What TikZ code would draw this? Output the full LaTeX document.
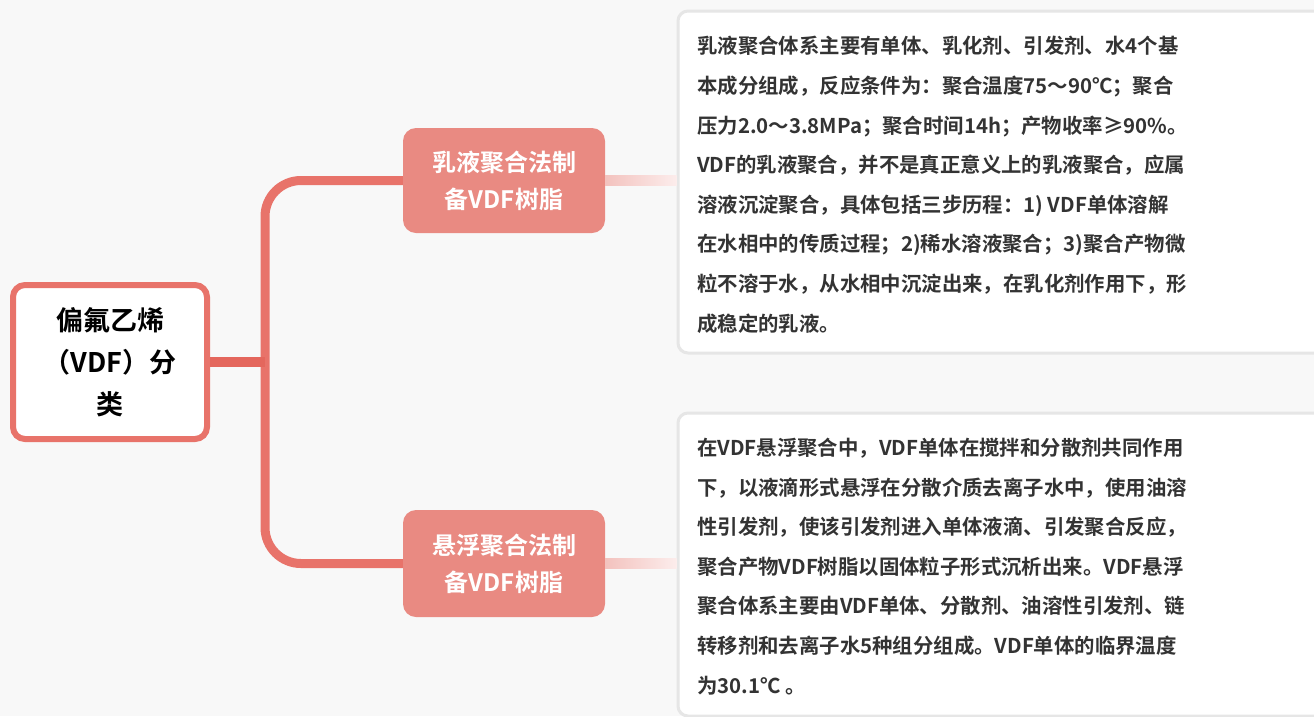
\documentclass[tikz,border=0pt]{standalone}
\usepackage{fontspec}
\setmainfont{Noto Sans CJK SC}[BoldFont={Noto Sans CJK SC Bold}]
\usetikzlibrary{calc}
\definecolor{bgc}{HTML}{F8F8F8}
\definecolor{trunkc}{HTML}{E8736A}
\definecolor{rootc}{HTML}{E4675D}
\definecolor{branchc}{HTML}{E98A82}
\definecolor{tboxc}{HTML}{E6E6E6}
\definecolor{txtc}{HTML}{333333}
\definecolor{gradl}{HTML}{F3C2BE}
\definecolor{gradr}{HTML}{FCEDEC}
\tikzset{
  rootbox/.style={draw=trunkc, line width=6pt, fill=white, rounded corners=12pt,
    minimum width=194pt, minimum height=154pt, inner sep=0pt, align=center,
    text=black, font=\bfseries\fontsize{27}{42}\selectfont},
  branchbox/.style={fill=branchc, rounded corners=13pt, minimum width=202pt,
    inner sep=0pt, align=center, text=white,
    font=\bfseries\fontsize{24}{37}\selectfont},
  textbox/.style={draw=tboxc, line width=3pt, fill=white, rounded corners=10pt,
    minimum width=680pt, inner sep=0pt, anchor=north west},
  bodytext/.style={anchor=base west, inner sep=0pt, align=left, text=txtc,
    font=\bfseries\fontsize{20.4}{39.6}\selectfont},
  trunk/.style={draw=trunkc, line width=9pt, rounded corners=36pt},
  rootline/.style={draw=rootc, line width=10pt},
}
\begin{document}
\begin{tikzpicture}[x=1pt,y=-1pt]
\clip (0,0) rectangle (1314,716);
\fill[bgc] (0,0) rectangle (1314,716);
\useasboundingbox (0,0) rectangle (1314,716);

% text boxes
\node[textbox, minimum height=342pt] (t1) at (676.5,9.5) {};
\node[textbox, minimum height=303pt] (t2) at (676.5,411.5) {};

% branch nodes
\node[branchbox, minimum height=105pt] (b1) at (504,180.5) {\raisebox{-3pt}{乳液聚合法制}\\\raisebox{-3pt}{备VDF树脂}};
\node[branchbox, minimum height=107pt] (b2) at (504,563.5) {\raisebox{-3pt}{悬浮聚合法制}\\\raisebox{-3pt}{备VDF树脂}};

% root
\node[rootbox] (root) at (110,362) {\raisebox{-3pt}{偏氟乙烯}\\\raisebox{-3pt}{（VDF）分}\\\raisebox{-3pt}{类}};

% trunk
\coordinate (j) at (265,362);
\draw[trunk] (b1.west) -| (j) |- (b2.west);
\draw[rootline] (root.east) -- (j);

% gradient connectors
\shade[left color=gradl, right color=gradr]
  ($(b1.east)+(0,-5)$) rectangle ($(t1.west|-b1.east)+(0,5)$);
\shade[left color=gradl, right color=gradr]
  ($(b2.east)+(0,-5)$) rectangle ($(t2.west|-b2.east)+(0,5)$);

% body texts (base anchor = last line's baseline)
\node[bodytext] (x1) at (697,331) {乳液聚合体系主要有单体、乳化剂、引发剂、水4个基\\
本成分组成，反应条件为：聚合温度75～90℃；聚合\\
压力2.0～3.8MPa；聚合时间14h；产物收率≥90\%。\\
VDF的乳液聚合，并不是真正意义上的乳液聚合，应属\\
溶液沉淀聚合，具体包括三步历程：1) VDF单体溶解\\
在水相中的传质过程；2)稀水溶液聚合；3)聚合产物微\\
粒不溶于水，从水相中沉淀出来，在乳化剂作用下，形\\
成稳定的乳液。};

\node[bodytext] (x2) at (697,693) {在VDF悬浮聚合中，VDF单体在搅拌和分散剂共同作用\\
下，以液滴形式悬浮在分散介质去离子水中，使用油溶\\
性引发剂，使该引发剂进入单体液滴、引发聚合反应，\\
聚合产物VDF树脂以固体粒子形式沉析出来。VDF悬浮\\
聚合体系主要由VDF单体、分散剂、油溶性引发剂、链\\
转移剂和去离子水5种组分组成。VDF单体的临界温度\\
为30.1℃ 。};
\end{tikzpicture}
\end{document}
